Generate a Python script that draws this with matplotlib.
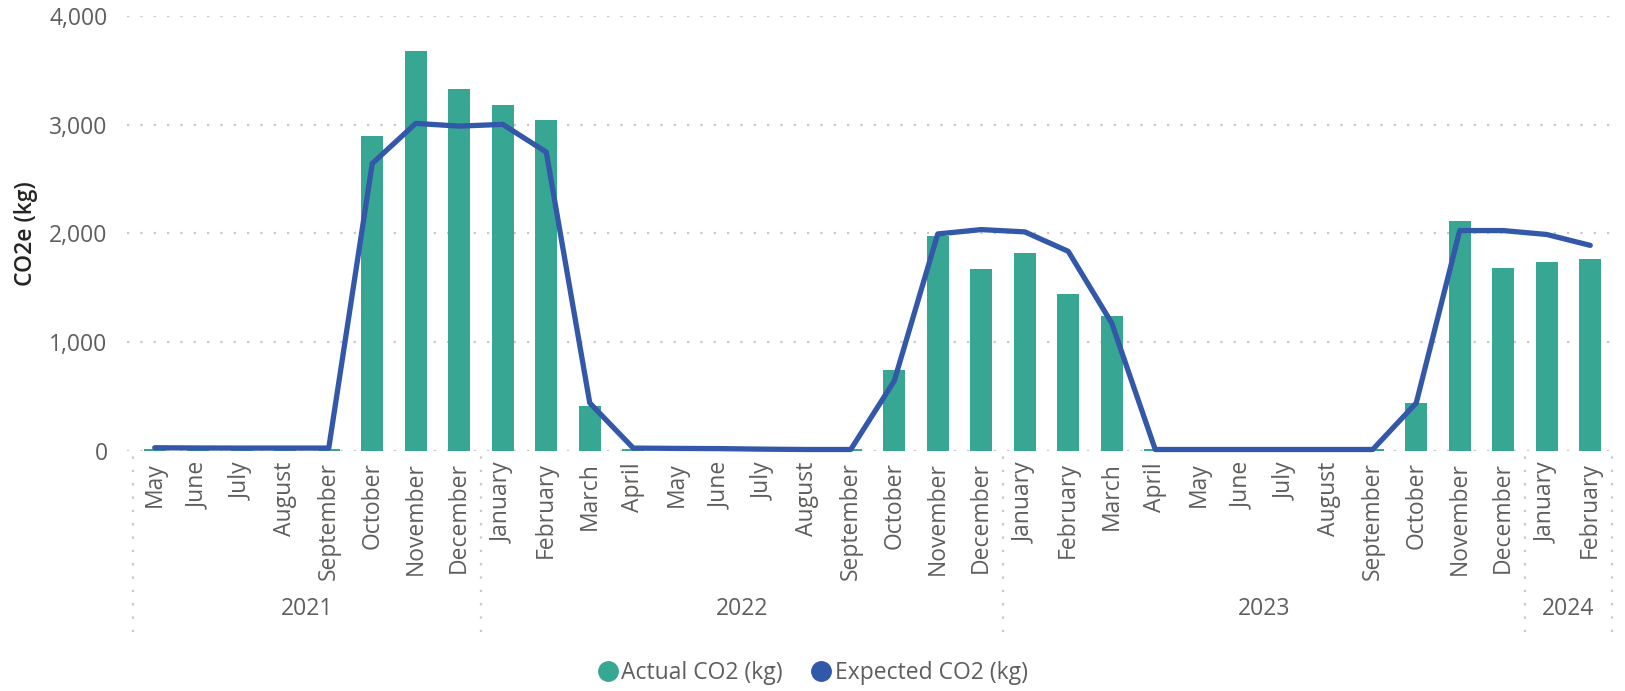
#
# CO2e actual vs expected, monthly, with year grouping on the x axis
#
import matplotlib
matplotlib.use('Agg')
import matplotlib.pyplot as plt
import matplotlib.transforms as mtransforms
from matplotlib.lines import Line2D
from matplotlib.ticker import StrMethodFormatter
#
# Data
#
months = ['May', 'June', 'July', 'August', 'September', 'October', 'November', 'December',
          'January', 'February', 'March', 'April', 'May', 'June', 'July', 'August',
          'September', 'October', 'November', 'December',
          'January', 'February', 'March', 'April', 'May', 'June', 'July', 'August',
          'September', 'October', 'November', 'December',
          'January', 'February']
years = ['2021', '2022', '2023', '2024']
months_per_year = [8, 12, 12, 2]
actual = [20, 20, 20, 20, 20, 2900, 3675, 3325,
          3180, 3040, 413, 15, 10, 10, 8, 8, 12, 745, 1980, 1676,
          1823, 1445, 1242, 15, 10, 10, 8, 8, 12, 440, 2118, 1685,
          1740, 1768]
expected = [28, 26, 25, 25, 25, 2643, 3012, 2987,
            3003, 2748, 440, 25, 22, 20, 15, 12, 12, 643, 1995, 2035,
            2014, 1835, 1175, 12, 12, 12, 12, 12, 12, 440, 2026, 2026,
            1990, 1890]
#
# Style
#
bar_color = '#37A794'
line_color = '#3357A9'
tick_color = '#605E5C'
grid_color = '#C8C8C8'
plt.rcParams['font.family'] = ['Open Sans', 'DejaVu Sans']

W, H = 1625, 691
fig = plt.figure(figsize=(W / 100, H / 100), dpi=100)
ax_l, ax_r, ax_t, ax_b = 127, 1615, 16, 450.8
ax = fig.add_axes([ax_l / W, 1 - ax_b / H, (ax_r - ax_l) / W, (ax_b - ax_t) / H])

x = list(range(len(months)))
ax.bar(x, actual, width=0.5, color=bar_color, zorder=2, label='Actual CO2 (kg)')
ax.plot(x, expected, color=line_color, lw=3.8, solid_joinstyle='round',
        solid_capstyle='round', zorder=3, label='Expected CO2 (kg)', clip_on=False)

# x limits so that category edges land on the separator positions
cat_w = (1612 - 133) / len(months)
ax.set_xlim(-0.5 - (133 - ax_l) / cat_w, len(months) - 0.5 + (ax_r - 1612) / cat_w)
ax.set_ylim(0, 4000)
ax.set_yticks([0, 1000, 2000, 3000, 4000])
ax.yaxis.set_major_formatter(StrMethodFormatter('{x:,.0f}'))
ax.grid(axis='y', color=grid_color, linestyle=(0, (1, 5)), lw=1.6, zorder=0)

for s in ax.spines.values():
    s.set_visible(False)
ax.tick_params(axis='y', length=0, pad=14, labelsize=16.5, labelcolor=tick_color)
ax.set_xticks(x)
ax.set_xticklabels(months, rotation=90, va='top', ha='center')
ax.tick_params(axis='x', length=0, pad=8, labelsize=16.5, labelcolor=tick_color)

ax.set_ylabel('CO2e (kg)', fontsize=16.5, fontweight='semibold', color='#252423',
              labelpad=8)

# year grouping row and dotted separators
trans = mtransforms.blended_transform_factory(ax.transData, fig.transFigure)
y_top, y_bot = 1 - 453 / H, 1 - 632 / H
start = -0.5
bounds = [start]
for name, n in zip(years, months_per_year):
    end = start + n
    ax.text((start + end) / 2, 1 - 609 / H, name, transform=trans, ha='center',
            va='center', fontsize=16.5, color=tick_color)
    bounds.append(end)
    start = end
for b in bounds:
    fig.add_artist(Line2D([b, b], [y_bot, y_top], transform=trans, color=grid_color,
                          linestyle=(0, (1, 5)), lw=1.6))

# legend
handles = [Line2D([], [], marker='o', ls='', markersize=14, color=bar_color),
           Line2D([], [], marker='o', ls='', markersize=14, color=line_color)]
fig.legend(handles, ['Actual CO2 (kg)', 'Expected CO2 (kg)'], loc='center',
           bbox_to_anchor=(0.5, 1 - 673 / H), ncol=2, frameon=False, fontsize=16.5,
           labelcolor=tick_color, handlelength=0.9, handletextpad=0.15,
           columnspacing=1.2)

fig.savefig('out.png', dpi=100)
